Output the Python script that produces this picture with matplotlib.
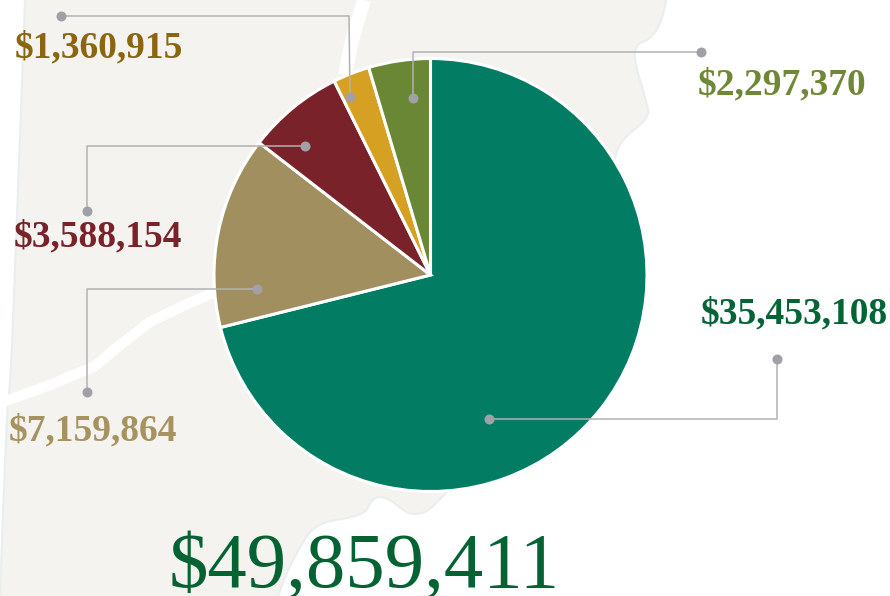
import matplotlib
matplotlib.use("Agg")
import matplotlib.pyplot as plt
from matplotlib.patches import PathPatch
from matplotlib.path import Path

W, H = 890, 596

# pie data, clockwise from 12 o'clock
values = [35453108, 7159864, 3588154, 1360915, 2297370]
slice_colors = ["#027d64", "#a18f60", "#7a222a", "#d6a022", "#6a8735"]
total_text = "$49,859,411"
total_color = "#056333"

# labels: text, colour, left x, baseline y (pixels from top)
label_texts = ["$35,453,108", "$7,159,864", "$3,588,154", "$1,360,915", "$2,297,370"]
label_colors = ["#056436", "#a6935f", "#7a222a", "#8c6510", "#6f8838"]
label_x = [701, 9, 14, 15, 698]
label_y = [323, 440, 246, 57, 94]

# leader lines as (x, y) pixel paths, dot at both ends
leaders = [
    [(489, 419), (777, 419), (777, 359)],
    [(257, 289), (87, 289), (87, 392)],
    [(305, 146), (87, 146), (87, 211)],
    [(350, 97), (349, 16), (61, 16)],
    [(413, 98), (413, 52), (701, 52)],
]

# background map shape, control points of a smoothed outline
map_outline = [
    (100, -50), (27, -50), (25, 0), (14, 298), (10, 390), (7, 405), (0, 596),
    (-2, 650), (270, 650), (276, 596), (300, 545), (318, 522), (365, 516),
    (372, 497), (388, 497), (412, 518), (440, 505), (600, 300), (612, 168),
    (620, 140), (650, 118), (646, 100), (630, 46), (655, 38), (668, 0),
    (670, -50),
]
road_low = [(0, 403), (50, 385), (95, 366), (120, 345), (150, 322), (185, 305),
            (215, 292), (260, 280)]
road_top = [(364, 0), (352, 40), (345, 75)]


def flip(pts):
    return [(x, H - y) for x, y in pts]


def smooth_path(pts):
    # closed quadratic spline through the edge midpoints
    n = len(pts)
    mids = [((pts[i][0] + pts[(i + 1) % n][0]) / 2, (pts[i][1] + pts[(i + 1) % n][1]) / 2)
            for i in range(n)]
    verts = [mids[-1]]
    codes = [Path.MOVETO]
    for i in range(n):
        verts += [pts[i], mids[i]]
        codes += [Path.CURVE3, Path.CURVE3]
    return Path(verts, codes)


fig = plt.figure(figsize=(W / 100, H / 100), dpi=100)
ax = fig.add_axes([0, 0, 1, 1])

ax.add_patch(PathPatch(smooth_path(flip(map_outline)), facecolor="#f4f3ef",
                       edgecolor="#e9efee", linewidth=1.5, zorder=1))
for road, lw in [(road_low, 7.5), (road_top, 10)]:
    xs, ys = zip(*flip(road))
    ax.plot(xs, ys, color="white", lw=lw, solid_capstyle="butt",
            solid_joinstyle="round", zorder=2)

ax.pie(values, colors=slice_colors, startangle=90, counterclock=False,
       center=(430.5, H - 275), radius=216.5, frame=True,
       wedgeprops={"edgecolor": "white", "linewidth": 2.2, "zorder": 3})
# pie resets the limits and aspect
ax.set_xlim(0, W)
ax.set_ylim(0, H)
ax.set_aspect("equal")
ax.axis("off")

for path in leaders:
    xs, ys = zip(*flip(path))
    ax.plot(xs, ys, color="#b2b2b4", lw=1.1, zorder=4)
    ax.plot([xs[0], xs[-1]], [ys[0], ys[-1]], "o", color="#a0a0a6", ms=7.2,
            mew=0, zorder=5)

for txt, col, x, y in zip(label_texts, label_colors, label_x, label_y):
    ax.text(x, H - y, txt, color=col, family="Liberation Serif", weight="bold",
            fontsize=27, ha="left", va="baseline", zorder=6)

ax.text(169, H - 586.5, total_text, color=total_color, family="Liberation Serif",
        fontsize=56.8, ha="left", va="baseline", zorder=6)

fig.savefig("out.png", dpi=100, facecolor="white")
